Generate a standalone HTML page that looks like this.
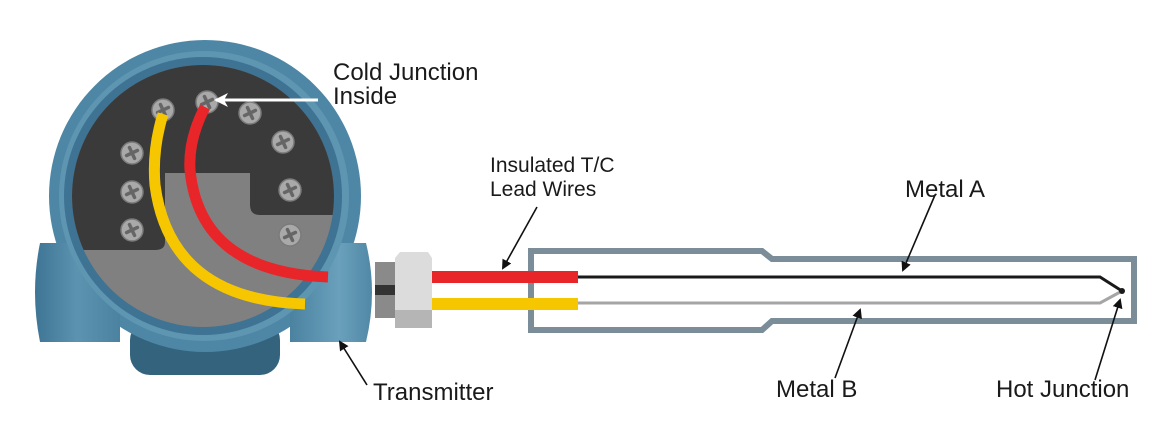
<!DOCTYPE html>
<html><head><meta charset="utf-8"><style>
html,body{margin:0;padding:0;background:#fff;}
svg{display:block;}
text{font-family:"Liberation Sans",sans-serif;font-size:24px;fill:#1a1a1a;}
.s{font-size:21px;}
</style></head><body>
<svg width="1160" height="435" viewBox="0 0 1160 435" xmlns="http://www.w3.org/2000/svg">
<defs>
<clipPath id="face"><circle cx="203" cy="196" r="131"/></clipPath>
<linearGradient id="bl" x1="0" x2="1"><stop offset="0" stop-color="#3f7594"/><stop offset="0.5" stop-color="#5b93b0"/><stop offset="1" stop-color="#4a82a0"/></linearGradient>
<linearGradient id="br" x1="0" x2="1"><stop offset="0" stop-color="#4a82a0"/><stop offset="0.6" stop-color="#6aa0bb"/><stop offset="1" stop-color="#5088a6"/></linearGradient>
<marker id="ab" markerWidth="10" markerHeight="10" refX="8" refY="5" orient="auto" markerUnits="userSpaceOnUse"><path d="M0,0 L10,5 L0,10 Z" fill="#111"/></marker>
<marker id="aw" markerWidth="14" markerHeight="14" refX="12" refY="7" orient="auto" markerUnits="userSpaceOnUse"><path d="M0,0 L14,7 L0,14 L4,7 Z" fill="#fff"/></marker>
<g id="screw"><circle r="11" fill="#a9a9a9" stroke="#7a7a7a" stroke-width="1.5"/><path d="M-6,0 L6,0 M0,-6 L0,6" stroke="#666" stroke-width="3.5" stroke-linecap="round" transform="rotate(-25)"/></g>
</defs>
<!-- bosses -->
<rect x="130" y="320" width="150" height="55" rx="20" fill="#34637e"/>
<circle cx="205" cy="196" r="156" fill="#4e87a5"/>
<path d="M40,243 L120,243 L120,342 L40,342 Q30,292 40,243Z" fill="url(#bl)"/>
<path d="M290,243 L366,243 Q378,292 366,342 L290,342Z" fill="url(#br)"/>
<!-- housing -->
<circle cx="204" cy="196" r="145" fill="#5e95b1"/>
<circle cx="203" cy="196" r="139" fill="#3e7393"/>
<g clip-path="url(#face)">
<rect x="60" y="60" width="290" height="280" fill="#808080"/>
<path d="M60,60 L350,60 L350,215 L260,215 Q250,215 250,205 L250,173 L165,173 L165,242 Q165,250 155,250 L60,250Z" fill="#3a3a3a"/>
</g>
<!-- screws -->
<use href="#screw" x="163" y="110"/>
<use href="#screw" x="207" y="102"/>
<use href="#screw" x="250" y="113"/>
<use href="#screw" x="283" y="142"/>
<use href="#screw" x="290" y="190"/>
<use href="#screw" x="290" y="235"/>
<use href="#screw" x="132" y="153"/>
<use href="#screw" x="132" y="192"/>
<use href="#screw" x="132" y="230"/>
<!-- wires -->
<path d="M163,114 Q152,150 155,185 Q170,300 305,304" fill="none" stroke="#f6c700" stroke-width="11"/>
<path d="M205,107 Q188,140 190,170 Q200,272 328,277" fill="none" stroke="#e8262a" stroke-width="11"/>
<!-- fitting -->
<rect x="375" y="262" width="22" height="56" fill="#8a8a8a"/>
<rect x="375" y="285" width="22" height="10" fill="#333"/>
<path d="M395,258 L400,252 L428,252 L432,258 L432,322 L428,328 L400,328 L395,322Z" fill="#dcdcdc"/>
<rect x="395" y="310" width="37" height="18" fill="#b5b5b5"/>
<!-- sheath -->
<path d="M531,251 L762,251 L772,259 L1134,259 L1134,321 L772,321 L762,330 L531,330Z" fill="none" stroke="#7a8d99" stroke-width="6"/>
<!-- lead wires -->
<rect x="432" y="271" width="146" height="12" fill="#e8262a"/>
<rect x="432" y="298" width="146" height="12" fill="#f6c700"/>
<path d="M578,277 L1100,277 L1122,291" fill="none" stroke="#1a1a1a" stroke-width="3"/>
<path d="M578,303 L1100,303 L1122,291" fill="none" stroke="#a5a5a5" stroke-width="3"/>
<circle cx="1122" cy="291" r="3" fill="#1a1a1a"/>
<!-- arrows -->
<line x1="318" y1="100" x2="216" y2="100" stroke="#fff" stroke-width="3" marker-end="url(#aw)"/>
<line x1="367" y1="385" x2="340" y2="342" stroke="#111" stroke-width="1.6" marker-end="url(#ab)"/>
<line x1="537" y1="207" x2="503" y2="268" stroke="#111" stroke-width="1.6" marker-end="url(#ab)"/>
<line x1="935" y1="195" x2="903" y2="270" stroke="#111" stroke-width="1.6" marker-end="url(#ab)"/>
<line x1="835" y1="378" x2="860" y2="310" stroke="#111" stroke-width="1.6" marker-end="url(#ab)"/>
<line x1="1095" y1="380" x2="1120" y2="300" stroke="#111" stroke-width="1.6" marker-end="url(#ab)"/>
<!-- labels -->
<text x="333" y="80">Cold Junction</text>
<text x="333" y="104">Inside</text>
<text class="s" x="490" y="172">Insulated T/C</text>
<text class="s" x="490" y="196">Lead Wires</text>
<text x="905" y="197">Metal A</text>
<text x="373" y="400">Transmitter</text>
<text x="776" y="397">Metal B</text>
<text x="996" y="397">Hot Junction</text>
</svg>
</body></html>
